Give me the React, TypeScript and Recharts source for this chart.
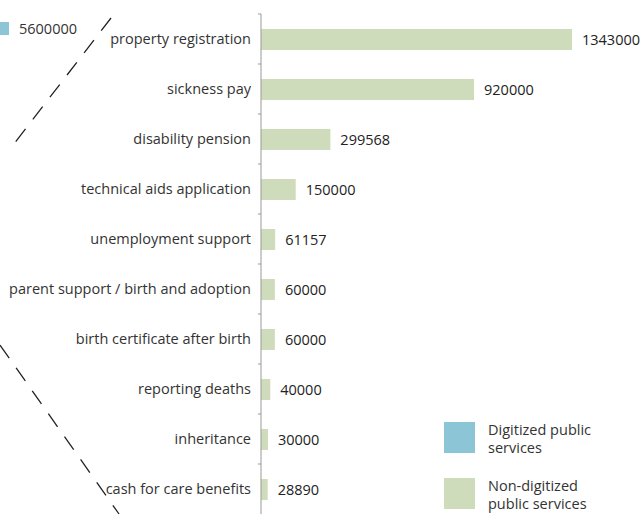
import React from 'react';
import { BarChart, Bar, XAxis, YAxis, LabelList, Customized } from 'recharts';

const categories = [
  'property registration',
  'sickness pay',
  'disability pension',
  'technical aids application',
  'unemployment support',
  'parent support / birth and adoption',
  'birth certificate after birth',
  'reporting deaths',
  'inheritance',
  'cash for care benefits',
];
const nonDigitized = [1343000, 920000, 299568, 150000, 61157, 60000, 60000, 40000, 30000, 28890];
const digitizedTotal = 5600000;
const legendItems = [
  { label: ['Digitized public', 'services'], color: '#8cc6d6' },
  { label: ['Non-digitized', 'public services'], color: '#cfdcbc' },
];

const data = categories.map((name, i) => ({ name, value: nonDigitized[i] }));

const FONT = '"Open Sans", "DejaVu Sans", sans-serif';
const FS = 14.5;
const W = 644;
const H = 515;
const TOP = 14;
const BOTTOM = 1;
const band = (H - TOP - BOTTOM) / categories.length;

const CategoryTick = (props: any) => {
  const { x, y, payload } = props;
  return (
    <g>
      <line x1={x - 3} x2={x} y1={y - band / 2} y2={y - band / 2} stroke="#999" />
      <text x={x - 10} y={y} dy={5} textAnchor="end" fill="#333" fontSize={FS} fontFamily={FONT}>
        {payload.value}
      </text>
    </g>
  );
};

const Overlay = () => (
  <g>
    <rect x={0} y={22} width={9} height={13} fill="#8cc6d6" />
    <text x={19} y={34} fill="#333" fontSize={FS} fontFamily={FONT}>{digitizedTotal}</text>
    <line x1={111} y1={18} x2={10} y2={149} stroke="#222" strokeWidth={1.3} strokeDasharray="16 12" />
    <line x1={0} y1={345} x2={119} y2={514} stroke="#222" strokeWidth={1.3} strokeDasharray="16 12" />
  </g>
);

const LegendBox = () => (
  <div
    style={{
      position: 'absolute',
      left: 444,
      top: 422,
      fontFamily: FONT,
      fontSize: FS,
      color: '#333',
      lineHeight: '18px',
    }}
  >
    {legendItems.map((it) => (
      <div key={it.color} style={{ display: 'flex', alignItems: 'flex-start', marginBottom: 21 }}>
        <div style={{ width: 31, height: 31, background: it.color, marginRight: 13 }} />
        <div style={{ marginTop: -1 }}>
          {it.label.map((l) => <div key={l}>{l}</div>)}
        </div>
      </div>
    ))}
  </div>
);

export default function App() {
  return (
    <div style={{ position: 'absolute', left: 0, top: 0, width: W, height: H, background: '#fff', overflow: 'hidden' }}>
      <BarChart
        width={W}
        height={H}
        data={data}
        layout="vertical"
        margin={{ top: TOP, right: 72, bottom: BOTTOM, left: 0 }}
      >
        <XAxis type="number" hide domain={[0, 1343000]} />
        <YAxis
          type="category"
          dataKey="name"
          width={261}
          axisLine={{ stroke: '#999' }}
          tickLine={false}
          tickSize={0}
          tickMargin={0}
          interval={0}
          tick={<CategoryTick />}
        />
        <Bar dataKey="value" fill="#cfdcbc" barSize={21} isAnimationActive={false}>
          <LabelList dataKey="value" position="right" offset={10} fill="#222" fontSize={FS} fontFamily={FONT} />
        </Bar>
        <Customized component={<Overlay />} />
      </BarChart>
      <LegendBox />
    </div>
  );
}
